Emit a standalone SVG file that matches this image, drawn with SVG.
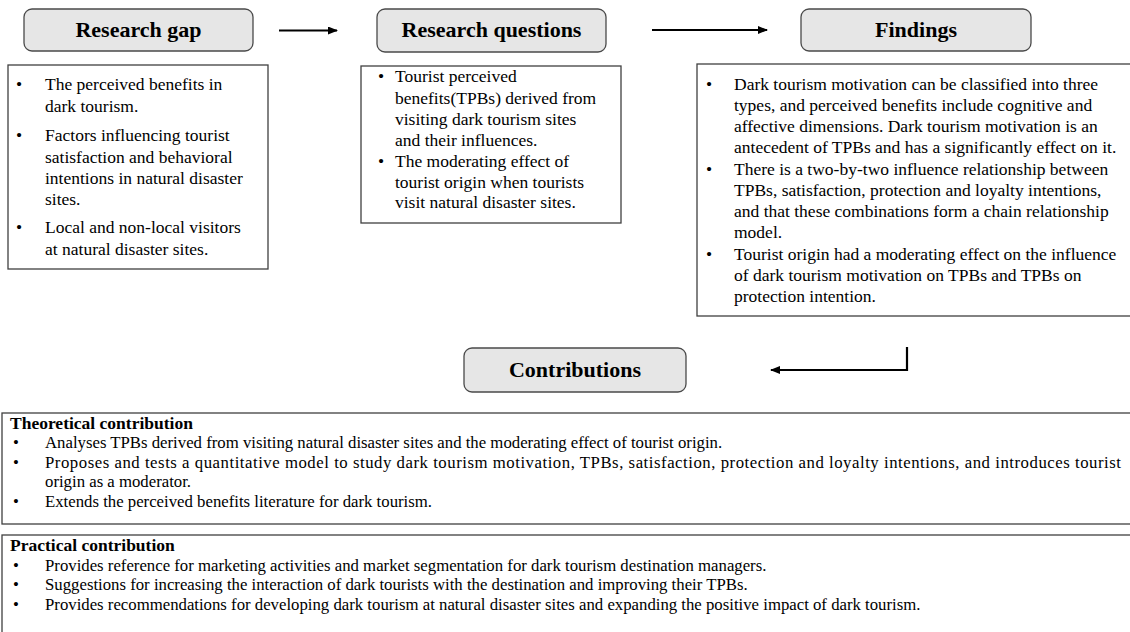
<svg xmlns="http://www.w3.org/2000/svg" width="1130" height="632" viewBox="0 0 1130 632">
  <style>
    .hdr { fill: #e6e6e6; stroke: #4a4a4a; stroke-width: 1.3; }
    .box { fill: #ffffff; stroke: #404040; stroke-width: 1.3; }
    .ttl { font-family: "Liberation Serif", "Times New Roman", serif; font-weight: bold; font-size: 22px; fill: #000; text-anchor: middle; }
    .txt { font-family: "Liberation Serif", "Times New Roman", serif; font-size: 17.5px; fill: #000; }
    .sm { font-family: "Liberation Serif", "Times New Roman", serif; font-size: 16.75px; fill: #000; }
    .smb { font-family: "Liberation Serif", "Times New Roman", serif; font-size: 17.5px; font-weight: bold; fill: #000; }
    .conn { fill: none; stroke: #000; stroke-width: 2.2; }
  </style>
  <defs>
    <marker id="arrow" markerUnits="userSpaceOnUse" markerWidth="10" markerHeight="8" refX="9" refY="4" orient="auto">
      <path d="M0,0 L10,4 L0,8 Z" fill="#000"/>
    </marker>
  </defs>
  <rect width="1130" height="632" fill="#ffffff"/>

  <!-- Research gap -->
  <g id="research-gap">
    <rect class="hdr" x="24" y="9" width="229" height="42" rx="8"/>
    <text class="ttl" x="138.5" y="37">Research gap</text>
    <rect class="box" x="8" y="65" width="260" height="204"/>
    <g class="txt">
      <text x="16" y="90">•</text>
      <text x="45" y="90">The perceived benefits in</text>
      <text x="45" y="112">dark tourism.</text>
      <text x="16" y="141">•</text>
      <text x="45" y="141">Factors influencing tourist</text>
      <text x="45" y="162.5">satisfaction and behavioral</text>
      <text x="45" y="184">intentions in natural disaster</text>
      <text x="45" y="205">sites.</text>
      <text x="16" y="233">•</text>
      <text x="45" y="233">Local and non-local visitors</text>
      <text x="45" y="254.5">at natural disaster sites.</text>
    </g>
  </g>

  <!-- Research questions -->
  <g id="research-questions">
    <rect class="hdr" x="377" y="9" width="229" height="43" rx="8"/>
    <text class="ttl" x="491.5" y="37">Research questions</text>
    <rect class="box" x="361" y="66" width="260" height="157"/>
    <g class="txt">
      <text x="378" y="82">•</text>
      <text x="395" y="82">Tourist perceived</text>
      <text x="395" y="104">benefits(TPBs) derived from</text>
      <text x="395" y="125">visiting dark tourism sites</text>
      <text x="395" y="146">and their influences.</text>
      <text x="378" y="167">•</text>
      <text x="395" y="167">The moderating effect of</text>
      <text x="395" y="188">tourist origin when tourists</text>
      <text x="395" y="208">visit natural disaster sites.</text>
    </g>
  </g>

  <!-- Findings -->
  <g id="findings">
    <rect class="hdr" x="801" y="9" width="230" height="42" rx="8"/>
    <text class="ttl" x="916" y="37">Findings</text>
    <rect class="box" x="697" y="64" width="440" height="252"/>
    <g class="txt">
      <text x="706" y="90">•</text>
      <text x="734" y="90">Dark tourism motivation can be classified into three</text>
      <text x="734" y="111">types, and perceived benefits include cognitive and</text>
      <text x="734" y="132">affective dimensions. Dark tourism motivation is an</text>
      <text x="734" y="153">antecedent of TPBs and has a significantly effect on it.</text>
      <text x="706" y="175">•</text>
      <text x="734" y="175">There is a two-by-two influence relationship between</text>
      <text x="734" y="196">TPBs, satisfaction, protection and loyalty intentions,</text>
      <text x="734" y="217">and that these combinations form a chain relationship</text>
      <text x="734" y="238">model.</text>
      <text x="706" y="260">•</text>
      <text x="734" y="260">Tourist origin had a moderating effect on the influence</text>
      <text x="734" y="281">of dark tourism motivation on TPBs and TPBs on</text>
      <text x="734" y="302">protection intention.</text>
    </g>
  </g>

  <!-- Contributions -->
  <g id="contributions">
    <rect class="hdr" x="464" y="348" width="222" height="44" rx="8"/>
    <text class="ttl" x="575" y="377">Contributions</text>
  </g>

  <!-- Theoretical contribution -->
  <g id="theoretical-contribution">
    <rect class="box" x="2" y="413" width="1140" height="111"/>
    <text class="smb" x="10" y="429">Theoretical contribution</text>
    <g class="sm">
      <text x="13" y="448">•</text>
      <text x="45" y="448">Analyses TPBs derived from visiting natural disaster sites and the moderating effect of tourist origin.</text>
      <text x="13" y="467.5">•</text>
      <text x="45" y="467.5" textLength="1076" lengthAdjust="spacing">Proposes and tests a quantitative model to study dark tourism motivation, TPBs, satisfaction, protection and loyalty intentions, and introduces tourist</text>
      <text x="45" y="487">origin as a moderator.</text>
      <text x="13" y="506.5">•</text>
      <text x="45" y="506.5">Extends the perceived benefits literature for dark tourism.</text>
    </g>
  </g>

  <!-- Practical contribution -->
  <g id="practical-contribution">
    <rect class="box" x="2" y="535" width="1140" height="110"/>
    <text class="smb" x="10" y="551">Practical contribution</text>
    <g class="sm">
      <text x="13" y="570.5">•</text>
      <text x="45" y="570.5">Provides reference for marketing activities and market segmentation for dark tourism destination managers.</text>
      <text x="13" y="590">•</text>
      <text x="45" y="590">Suggestions for increasing the interaction of dark tourists with the destination and improving their TPBs.</text>
      <text x="13" y="609.5">•</text>
      <text x="45" y="609.5">Provides recommendations for developing dark tourism at natural disaster sites and expanding the positive impact of dark tourism.</text>
    </g>
  </g>

  <!-- Connectors -->
  <g id="connectors">
    <line class="conn" x1="279" y1="30.5" x2="337" y2="30.5" marker-end="url(#arrow)"/>
    <line class="conn" x1="652" y1="30" x2="767" y2="30" marker-end="url(#arrow)"/>
    <path class="conn" d="M907,347 V370 H771" marker-end="url(#arrow)"/>
  </g>
</svg>
